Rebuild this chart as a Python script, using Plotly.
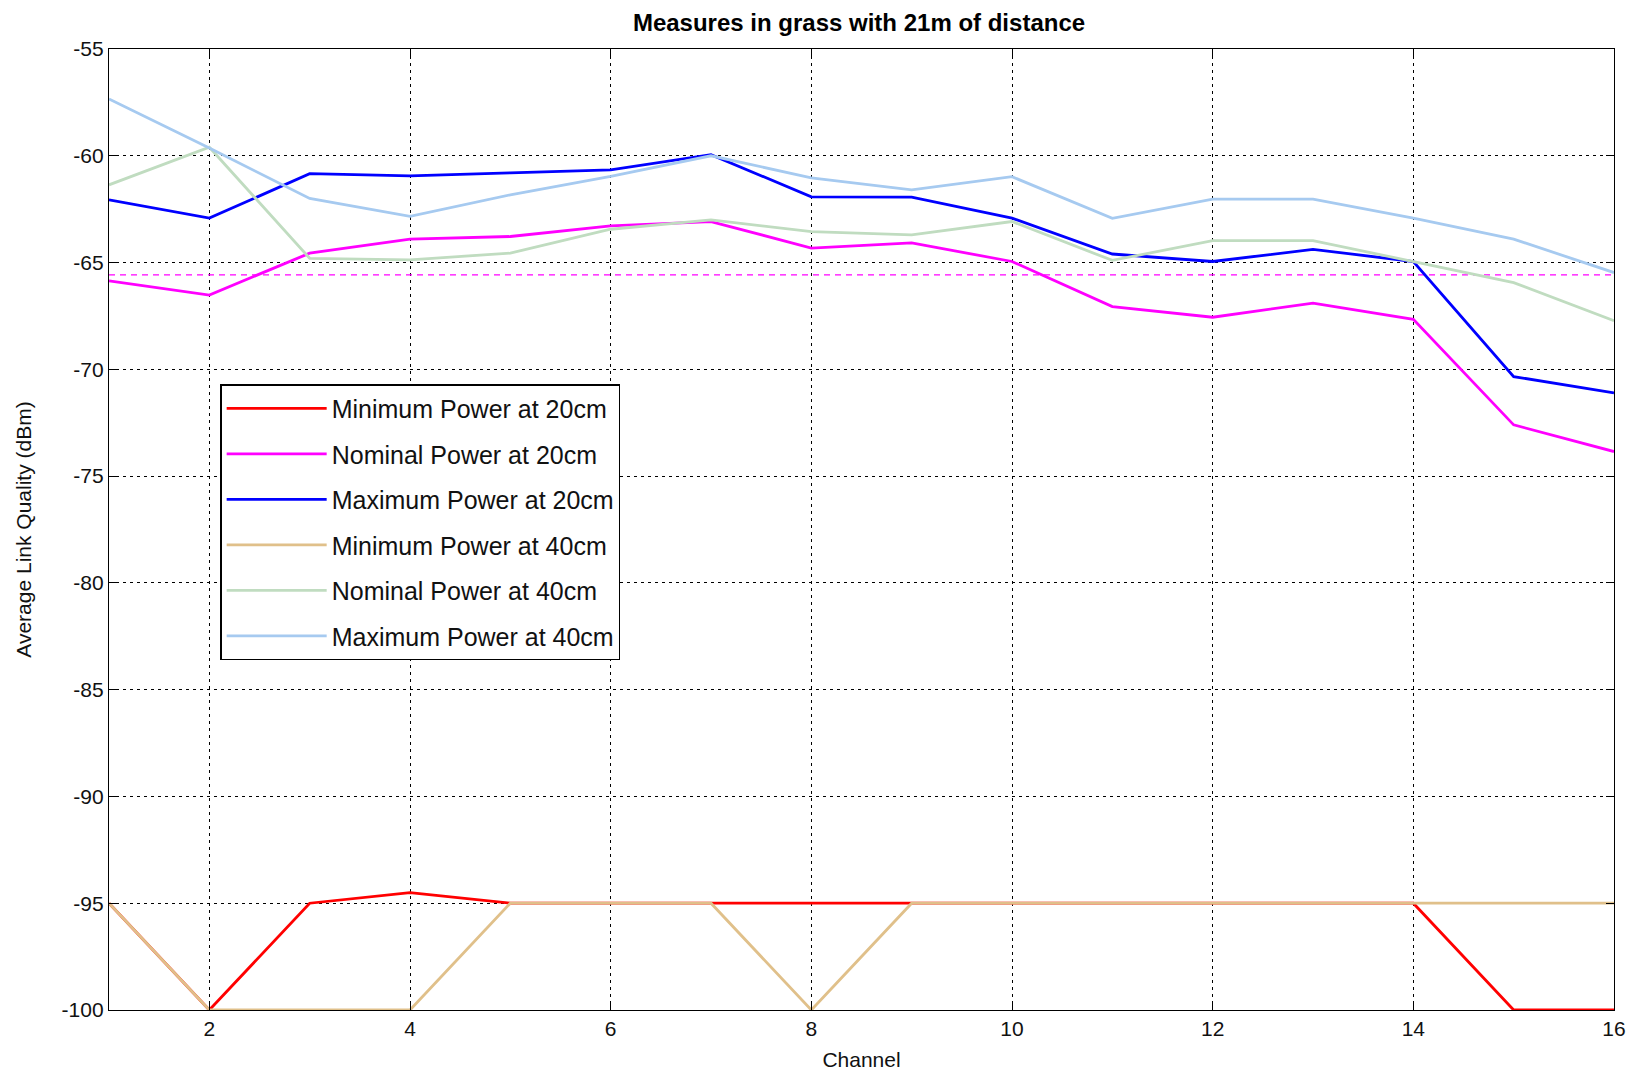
import plotly.graph_objects as go

channels = list(range(1, 17))

min_20 = [-95, -100, -95, -94.5, -95, -95, -95, -95, -95, -95, -95, -95, -95, -95, -100, -100]
nom_20 = [-65.86, -66.52, -64.56, -63.9, -63.78, -63.28, -63.08, -64.32, -64.08, -64.95, -67.06,
          -67.56, -66.9, -67.66, -72.6, -73.85]
max_20 = [-62.06, -62.92, -60.84, -60.94, -60.8, -60.66, -59.95, -61.92, -61.94, -62.92, -64.6,
          -64.95, -64.38, -64.95, -70.34, -71.1]
min_40 = [-95, -100, -100, -100, -95, -95, -95, -100, -95, -95, -95, -95, -95, -95, -95, -95]
nom_40 = [-61.36, -59.6, -64.8, -64.87, -64.56, -63.44, -63.0, -63.55, -63.7, -63.08, -64.9,
          -63.97, -63.97, -64.95, -65.94, -67.72]
max_40 = [-57.34, -59.64, -62.0, -62.84, -61.83, -60.97, -60.0, -61.03, -61.6, -60.98, -62.93,
          -62.03, -62.03, -62.92, -63.9, -65.47]
threshold = -65.58

x_ticks = [2, 4, 6, 8, 10, 12, 14, 16]
y_ticks = [-100, -95, -90, -85, -80, -75, -70, -65, -60, -55]
y_tick_labels = ["-100", "-95", "-90", "-85", "-80", "-75", "-70", "-65", "-60", "-55"]

names = ["Minimum Power at 20cm", "Nominal Power at 20cm", "Maximum Power at 20cm",
         "Minimum Power at 40cm", "Nominal Power at 40cm", "Maximum Power at 40cm"]
series = [min_20, nom_20, max_20, min_40, nom_40, max_40]
colors = ["#ff0000", "#ff00ff", "#0000ff", "#e0c08a", "#c0dcc0", "#a6caf0"]

fig = go.Figure()
fig.add_trace(go.Scatter(x=[channels[0], channels[-1]], y=[threshold, threshold], mode="lines",
                         line=dict(color="#ff00ff", width=1.3, dash="6px,5px"),
                         showlegend=False, hoverinfo="skip"))
for i, (nm, ys, c) in enumerate(zip(names, series, colors)):
    fig.add_trace(go.Scatter(x=channels, y=ys, mode="lines", name=nm,
                             line=dict(color=c, width=2.8), legendgroup=f"g{i}"))

axis_common = dict(showline=True, linecolor="black", linewidth=1.3, mirror="ticks",
                   ticks="inside", ticklen=8, tickcolor="black", showgrid=True,
                   gridcolor="black", gridwidth=1, griddash="3px,4px", zeroline=False,
                   automargin=False,
                   tickfont=dict(family="Liberation Sans", size=21, color="#111"))

fig.update_layout(
    width=1630, height=1071,
    margin=dict(l=109, r=16, t=49, b=61),
    paper_bgcolor="white", plot_bgcolor="white",
    title=dict(text="<b>Measures in grass with 21m of distance</b>", x=0.527, xanchor="center",
               y=0.979, yanchor="middle",
               font=dict(family="Liberation Sans", size=24, color="black")),
    xaxis=dict(range=[1, 16], tickvals=x_ticks,
               title=dict(text="Channel", standoff=14,
                          font=dict(family="Liberation Sans", size=21, color="#111")),
               **axis_common),
    yaxis=dict(range=[-100, -55], tickvals=y_ticks, ticktext=y_tick_labels,
               title=dict(text="Average Link Quality (dBm)", standoff=24,
                          font=dict(family="Liberation Sans", size=21, color="#111")),
               **axis_common),
    legend=dict(x=0.074, y=0.651, xanchor="left", yanchor="top",
                bgcolor="white", bordercolor="black", borderwidth=1.3,
                font=dict(family="Liberation Sans", size=25, color="#111"),
                tracegroupgap=10, traceorder="grouped", itemwidth=100,
                entrywidth=330),
)

fig.write_html("out.html")
